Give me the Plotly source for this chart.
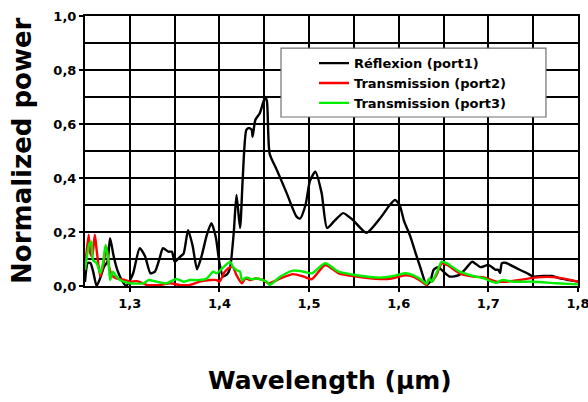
import plotly.graph_objects as go

# Wavelength (µm) and normalized power for each port
wl_reflexion = [1.250, 1.253, 1.256, 1.259, 1.263, 1.267, 1.271, 1.275, 1.278, 1.282,
                1.286, 1.291, 1.296, 1.300, 1.304, 1.311, 1.317, 1.323, 1.328, 1.333,
                1.337, 1.343, 1.347, 1.350, 1.356, 1.360, 1.365, 1.370, 1.375, 1.380,
                1.386, 1.391, 1.396, 1.400, 1.404, 1.409, 1.412, 1.416, 1.419, 1.423,
                1.426, 1.430, 1.433, 1.436, 1.437, 1.440, 1.445, 1.451, 1.453, 1.456,
                1.464, 1.475, 1.486, 1.490, 1.496, 1.501, 1.507, 1.514, 1.520, 1.528,
                1.538, 1.549, 1.564, 1.579, 1.590, 1.596, 1.601, 1.606, 1.613, 1.619,
                1.624, 1.631, 1.635, 1.639, 1.644, 1.650, 1.657, 1.667, 1.675, 1.682,
                1.691, 1.700, 1.708, 1.711, 1.713, 1.715, 1.719, 1.732, 1.745, 1.750,
                1.761, 1.771, 1.780, 1.790, 1.800]
p_reflexion = [0.015, 0.085, 0.085, 0.055, 0.0, 0.03, 0.07, 0.09, 0.177, 0.11,
               0.06, 0.022, 0.0, 0.02, 0.05, 0.14, 0.11, 0.047, 0.053, 0.10,
               0.14, 0.127, 0.127, 0.09, 0.108, 0.12, 0.207, 0.15, 0.062, 0.11,
               0.19, 0.233, 0.18, 0.085, 0.035, 0.045, 0.07, 0.20, 0.337, 0.215,
               0.40, 0.578, 0.585, 0.578, 0.553, 0.615, 0.64, 0.70, 0.683, 0.49,
               0.43, 0.344, 0.257, 0.25, 0.30, 0.39, 0.423, 0.344, 0.215, 0.24,
               0.27, 0.244, 0.197, 0.25, 0.30, 0.319, 0.30, 0.24, 0.183, 0.12,
               0.07, 0.004, 0.016, 0.06, 0.07, 0.053, 0.035, 0.04, 0.065, 0.09,
               0.07, 0.078, 0.06, 0.06, 0.048, 0.084, 0.086, 0.065, 0.044, 0.035,
               0.037, 0.037, 0.028, 0.022, 0.016]

wl_port2 = [1.250, 1.254, 1.256, 1.258, 1.261, 1.263, 1.267, 1.270, 1.274, 1.277,
            1.280, 1.285, 1.295, 1.300, 1.308, 1.319, 1.334, 1.345, 1.356, 1.367,
            1.378, 1.390, 1.397, 1.400, 1.406, 1.412, 1.415, 1.419, 1.425, 1.429,
            1.434, 1.440, 1.449, 1.455, 1.468, 1.482, 1.494, 1.503, 1.518, 1.533,
            1.553, 1.579, 1.592, 1.607, 1.616, 1.625, 1.631, 1.634, 1.637, 1.642,
            1.648, 1.654, 1.668, 1.683, 1.695, 1.709, 1.720, 1.735, 1.754, 1.776,
            1.800]
p_port2 = [0.066, 0.19, 0.12, 0.11, 0.19, 0.133, 0.035, 0.07, 0.146, 0.07,
           0.04, 0.028, 0.022, 0.016, 0.018, 0.004, 0.004, 0.01, 0.004, 0.004,
           0.016, 0.022, 0.022, 0.016, 0.053, 0.07, 0.07, 0.04, 0.01, 0.028,
           0.022, 0.028, 0.022, 0.01, 0.028, 0.044, 0.035, 0.025, 0.078, 0.047,
           0.035, 0.026, 0.028, 0.04, 0.035, 0.018, 0.004, 0.026, 0.016, 0.04,
           0.084, 0.078, 0.047, 0.035, 0.032, 0.016, 0.016, 0.022, 0.032, 0.032,
           0.016]

wl_port3 = [1.250, 1.255, 1.257, 1.259, 1.263, 1.267, 1.270, 1.273, 1.276, 1.278,
            1.281, 1.285, 1.289, 1.300, 1.315, 1.321, 1.330, 1.341, 1.352, 1.360,
            1.367, 1.378, 1.386, 1.393, 1.397, 1.403, 1.412, 1.415, 1.419, 1.423,
            1.425, 1.430, 1.436, 1.442, 1.453, 1.456, 1.468, 1.482, 1.494, 1.503,
            1.518, 1.533, 1.553, 1.579, 1.594, 1.607, 1.616, 1.628, 1.631, 1.634,
            1.637, 1.642, 1.648, 1.654, 1.668, 1.683, 1.695, 1.709, 1.715, 1.728,
            1.750, 1.776, 1.800]
p_port3 = [0.059, 0.158, 0.164, 0.096, 0.085, 0.047, 0.084, 0.152, 0.096, 0.022,
           0.053, 0.035, 0.022, 0.01, 0.01, 0.022, 0.016, 0.01, 0.026, 0.016,
           0.022, 0.022, 0.028, 0.053, 0.047, 0.065, 0.09, 0.07, 0.059, 0.053,
           0.022, 0.032, 0.025, 0.028, 0.016, 0.004, 0.035, 0.057, 0.053, 0.047,
           0.084, 0.053, 0.04, 0.031, 0.037, 0.047, 0.04, 0.016, 0.007, 0.028,
           0.016, 0.047, 0.09, 0.084, 0.053, 0.037, 0.028, 0.012, 0.022, 0.016,
           0.016, 0.01, 0.006]

series_names = ["Réflexion (port1)", "Transmission (port2)", "Transmission (port3)"]
series_colors = ["#000000", "#ff0000", "#00ee00"]

x_ticks = [1.3, 1.4, 1.5, 1.6, 1.7, 1.8]
y_ticks = [0.0, 0.2, 0.4, 0.6, 0.8, 1.0]

FONT = "DejaVu Sans, Verdana, sans-serif"

fig = go.Figure()
for wl, p, name, color in zip([wl_reflexion, wl_port2, wl_port3],
                              [p_reflexion, p_port2, p_port3],
                              series_names, series_colors):
    fig.add_trace(go.Scatter(
        x=wl, y=p, name=name, mode="lines",
        line=dict(color=color, width=2.4, shape="spline", smoothing=0.6),
    ))

axis_common = dict(
    showline=True, linecolor="black", linewidth=2, mirror=True,
    showgrid=True, gridcolor="black", gridwidth=1.6,
    ticks="outside", ticklen=4, tickcolor="black", tickwidth=1.6,
    tickfont=dict(family=FONT, size=13, color="black", weight="bold"),
    zeroline=False, tickformat=".1f", automargin=False,
    ticklabeloverflow="allow",
)

fig.update_xaxes(
    range=[1.25, 1.8], tickvals=x_ticks,
    minor=dict(dtick=0.05, tick0=1.25, showgrid=True, gridcolor="black",
               gridwidth=1.6, ticks=""),
    **axis_common,
)
fig.update_yaxes(
    range=[0, 1.0], tickvals=y_ticks,
    minor=dict(dtick=0.1, tick0=0, showgrid=True, gridcolor="black",
               gridwidth=1.6, ticks=""),
    **axis_common,
)

fig.update_layout(
    width=588, height=402,
    margin=dict(l=85, r=10, t=16, b=116),
    paper_bgcolor="white", plot_bgcolor="white",
    separators=", ",
    showlegend=True,
    legend=dict(
        x=(314 - 85) / 493, y=0.881, xanchor="left", yanchor="top",
        bgcolor="rgba(0,0,0,0)", borderwidth=0,
        font=dict(family=FONT, size=13, color="black", weight="bold"),
        itemwidth=30,
    ),
    # legend frame
    shapes=[dict(type="rect", xref="paper", yref="paper", layer="above",
                 x0=0.3976, x1=0.935, y0=0.626, y1=0.881,
                 fillcolor="white", line=dict(color="#707070", width=1.2))],
    annotations=[
        dict(text="Normalized power", xref="paper", yref="paper",
             x=-0.128, y=0.5, xanchor="center", yanchor="middle",
             textangle=-90, showarrow=False,
             font=dict(family=FONT, size=26, color="black", weight="bold")),
        dict(text="Wavelength (µm)", xref="paper", yref="paper",
             x=0.497, y=-0.35, xanchor="center", yanchor="middle",
             showarrow=False,
             font=dict(family=FONT, size=25, color="black", weight="bold")),
    ],
)

fig.write_html("out.html")
